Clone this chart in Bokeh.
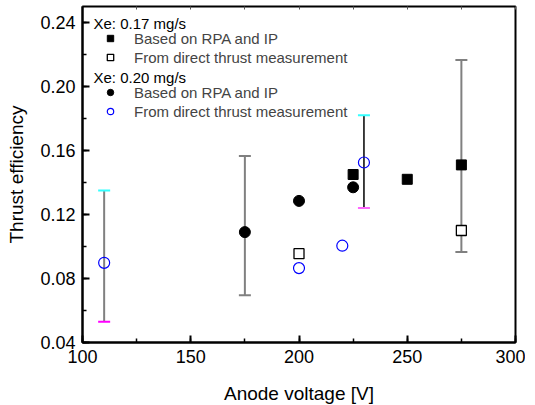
from bokeh.plotting import figure
from bokeh.models import (ColumnDataSource, Whisker, TeeHead, Legend, LegendItem, Label,
                          LinearAxis, SingleIntervalTicker, Range1d, CustomJSTickFormatter)
from bokeh.embed import file_html
from bokeh.resources import INLINE

# ---- data ----
rpa017_x = [225, 250, 275]
rpa017_y = [0.145, 0.142, 0.151]
dir017_x = [200, 275]
dir017_y = [0.0955, 0.110]
rpa020_x = [175, 200, 225]
rpa020_y = [0.109, 0.1285, 0.137]
dir020_x = [110, 200, 220, 230]
dir020_y = [0.0898, 0.0865, 0.1005, 0.1525]
err_x = [110, 175, 230, 275]
err_lo = [0.053, 0.0695, 0.124, 0.0965]
err_hi = [0.135, 0.1565, 0.182, 0.2165]

x_ticks_interval = 50
y_ticks_interval = 0.04

# ---- styles for error bars ----
err_line = ["#808080", "#808080", "#000000", "#808080"]
err_up = ["#33ffff", "#808080", "#33ffff", "#808080"]
err_dn = ["#ff00ff", "#808080", "#ff66ff", "#808080"]
err_w = [2, 2, 1.5, 2]

FONT = "Liberation Sans"

p = figure(frame_width=433, frame_height=336, output_backend="svg",
           toolbar_location=None, x_range=Range1d(100, 300), y_range=Range1d(0.04, 0.25),
           min_border_left=82, min_border_right=10, min_border_top=6, min_border_bottom=10)
p.grid.visible = False
p.outline_line_color = "black"
p.outline_line_width = 2
p.background_fill_color = "white"
p.border_fill_color = "white"

# axes
xa = p.xaxis[0]
xa.ticker = SingleIntervalTicker(interval=x_ticks_interval, num_minor_ticks=2)
ya = p.yaxis[0]
ya.ticker = SingleIntervalTicker(interval=y_ticks_interval, num_minor_ticks=2)
ya.formatter = CustomJSTickFormatter(code="return tick.toFixed(2);")
for ax in (xa, ya):
    ax.axis_line_width = 2
    ax.axis_line_color = "black"
    ax.major_tick_in = 7
    ax.major_tick_out = 0
    ax.minor_tick_in = 4
    ax.minor_tick_out = 0
    ax.major_tick_line_width = 2
    ax.minor_tick_line_width = 1.5
    ax.major_label_text_font = FONT
    ax.major_label_text_font_size = "18px"
    ax.major_label_text_color = "black"
    ax.axis_label_text_font = FONT
    ax.axis_label_text_font_size = "19px"
    ax.axis_label_text_font_style = "normal"
    ax.axis_label_text_color = "black"
xa.axis_label = "Anode voltage [V]"
ya.axis_label = "Thrust efficiency"
xa.major_label_standoff = 7
ya.major_label_standoff = 7
xa.axis_label_standoff = 17
ya.axis_label_standoff = 10

top = LinearAxis(ticker=SingleIntervalTicker(interval=25, num_minor_ticks=0),
                 formatter=CustomJSTickFormatter(code="return '';"),
                 major_label_standoff=0,
                 major_tick_in=3, major_tick_out=0, axis_line_color=None,
                 major_tick_line_color="#555555", minor_tick_line_color=None)
p.add_layout(top, "above")

# error bars
for i in range(len(err_x)):
    src = ColumnDataSource(dict(base=[err_x[i]], lower=[err_lo[i]], upper=[err_hi[i]]))
    w = Whisker(source=src, base="base", lower="lower", upper="upper",
                line_color=err_line[i], line_width=err_w[i],
                upper_head=TeeHead(size=12, line_color=err_up[i], line_width=2),
                lower_head=TeeHead(size=12, line_color=err_dn[i], line_width=2))
    p.add_layout(w)

r1 = p.scatter(rpa017_x, rpa017_y, marker="square", size=10, fill_color="black", line_color="black")
r2 = p.scatter(dir017_x, dir017_y, marker="square", size=10, fill_color="white",
               line_color="black", line_width=1.3)
r3 = p.scatter(rpa020_x, rpa020_y, marker="circle", size=11, fill_color="black", line_color="black")
r4 = p.scatter(dir020_x, dir020_y, marker="circle", size=11, fill_color=None,
               line_color="#0000ff", line_width=1.2)

def mk_legend(items, loc):
    return Legend(items=items, location=loc, margin=0, padding=0,
                  border_line_color=None, background_fill_alpha=0,
                  glyph_width=16, glyph_height=18, label_height=18, label_standoff=16,
                  spacing=1,
                  label_text_font=FONT, label_text_font_size="15px")

lg1 = mk_legend([LegendItem(label="Based on RPA and IP", renderers=[r1]),
                 LegendItem(label="From direct thrust measurement", renderers=[r2])], (20, 276))
lg2 = mk_legend([LegendItem(label="Based on RPA and IP", renderers=[r3]),
                 LegendItem(label="From direct thrust measurement", renderers=[r4])], (20, 222))
p.add_layout(lg1)
p.add_layout(lg2)

for txt, yy in (("Xe: 0.17 mg/s", 319), ("Xe: 0.20 mg/s", 265)):
    p.add_layout(Label(x=11, y=yy, x_units="screen", y_units="screen", text=txt,
                       text_font=FONT, text_font_size="15px", text_baseline="middle",
                       text_color="black"))

open("out.html", "w").write(file_html(p, INLINE))
